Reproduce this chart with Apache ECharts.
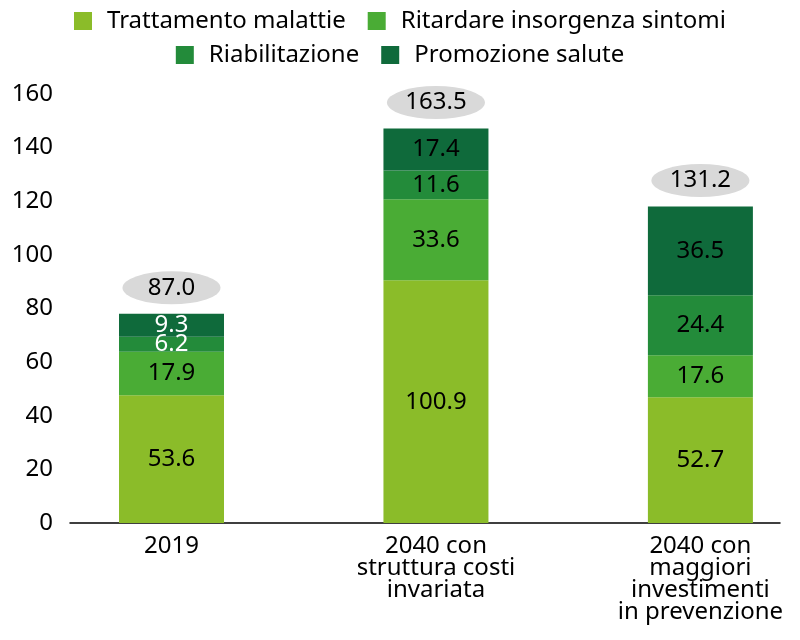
<!DOCTYPE html>
<html>
<head>
<meta charset="utf-8">
<script src="https://cdn.jsdelivr.net/npm/echarts@6/dist/echarts.min.js"></script>
<style>
  html, body { margin: 0; padding: 0; background: #fff; }
  #chart { width: 800px; height: 640px; }
</style>
</head>
<body>
<div id="chart"></div>
<script>
// Categories
const categories = ['2019', '2040 con\nstruttura costi\ninvariata', '2040 con\nmaggiori\ninvestimenti\nin prevenzione'];
const seriesNames = ['Trattamento malattie', 'Ritardare insorgenza sintomi', 'Riabilitazione', 'Promozione salute'];

// Bar heights as drawn against the value axis
const trattamento = [47.6, 90.5, 46.9];
const ritardare = [16.3, 30.2, 15.7];
const riabilitazione = [5.6, 10.8, 22.3];
const promozione = [8.5, 15.6, 33.1];

// Printed value labels
const trattamentoLabels = ['53.6', '100.9', '52.7'];
const ritardareLabels = ['17.9', '33.6', '17.6'];
const riabilitazioneLabels = ['6.2', '11.6', '24.4'];
const promozioneLabels = ['9.3', '17.4', '36.5'];
const totalLabels = ['87.0', '163.5', '131.2'];

// Axis ticks
const yTicks = [0, 20, 40, 60, 80, 100, 120, 140, 160];

const colors = ['#8bbc29', '#4aac35', '#238b3a', '#0f6a3b'];
const FONT = '"Noto Sans", "Open Sans", sans-serif';

const values = [trattamento, ritardare, riabilitazione, promozione];
const labels = [trattamentoLabels, ritardareLabels, riabilitazioneLabels, promozioneLabels];
const whiteLabel = [[], [], [0], [0]]; // indices with white label text

const barSeries = values.map((vals, si) => ({
  name: seriesNames[si],
  type: 'bar',
  xAxisIndex: 0,
  yAxisIndex: 0,
  stack: 'total',
  barWidth: 105,
  itemStyle: { color: colors[si] },
  label: {
    show: true,
    position: 'inside',
    fontFamily: FONT,
    fontSize: 24,
    color: '#000',
    formatter: p => labels[si][p.dataIndex]
  },
  data: vals.map((v, i) => whiteLabel[si].includes(i) ? { value: v, label: { color: '#fff' } } : v)
}));

const totals = categories.map((c, i) => values.reduce((s, arr) => s + arr[i], 0));

const totalSeries = {
  name: 'totale',
  type: 'scatter',
  xAxisIndex: 0,
  yAxisIndex: 0,
  symbol: 'circle',
  symbolSize: [98, 33],
  symbolOffset: [0, -26],
  clip: false,
  z: 5,
  itemStyle: { color: '#d9d9d9', opacity: 1 },
  emphasis: { disabled: true },
  label: {
    show: true,
    position: 'inside',
    fontFamily: FONT,
    fontSize: 24,
    color: '#000',
    opacity: 1,
    formatter: p => totalLabels[p.dataIndex]
  },
  data: totals
};

const legendText = { fontFamily: FONT, fontSize: 24, color: '#000', padding: [0, 0, 0, 10], lineHeight: 26 };

const chart = echarts.init(document.getElementById('chart'), null, { renderer: 'canvas' });
chart.setOption({
  animation: false,
  backgroundColor: '#fff',
  legend: [
    {
      data: seriesNames.slice(0, 2),
      left: 'center',
      top: 3,
      itemWidth: 18,
      itemHeight: 18,
      itemGap: 22,
      icon: 'rect',
      textStyle: legendText
    },
    {
      data: seriesNames.slice(2, 4),
      left: 'center',
      top: 37,
      itemWidth: 18,
      itemHeight: 18,
      itemGap: 22,
      icon: 'rect',
      textStyle: legendText
    }
  ],
  grid: [
    { left: 171.5, right: 99.6, top: 94, height: 429 },
    { left: 70, right: 20, top: 94, height: 429 }
  ],
  xAxis: [
    {
      type: 'category',
      gridIndex: 0,
      data: categories,
      boundaryGap: false,
      axisLine: { show: false },
      axisTick: { show: false },
      axisLabel: { fontFamily: FONT, fontSize: 24, color: '#000', lineHeight: 22, margin: 12, interval: 0 }
    },
    {
      type: 'value',
      gridIndex: 1,
      min: 0,
      max: 1,
      axisLine: { show: true, onZero: false, lineStyle: { color: '#000', width: 1.5 } },
      axisTick: { show: false },
      axisLabel: { show: false },
      splitLine: { show: false }
    }
  ],
  yAxis: [
    {
      type: 'value',
      gridIndex: 0,
      min: yTicks[0],
      max: yTicks[yTicks.length - 1],
      interval: yTicks[1] - yTicks[0],
      show: false,
      splitLine: { show: false }
    },
    {
      type: 'value',
      gridIndex: 1,
      min: yTicks[0],
      max: yTicks[yTicks.length - 1],
      interval: yTicks[1] - yTicks[0],
      axisLine: { show: false },
      axisTick: { show: false },
      splitLine: { show: false },
      axisLabel: { fontFamily: FONT, fontSize: 24, color: '#000', margin: 17 }
    }
  ],
  series: [...barSeries, totalSeries]
});
</script>
</body>
</html>
